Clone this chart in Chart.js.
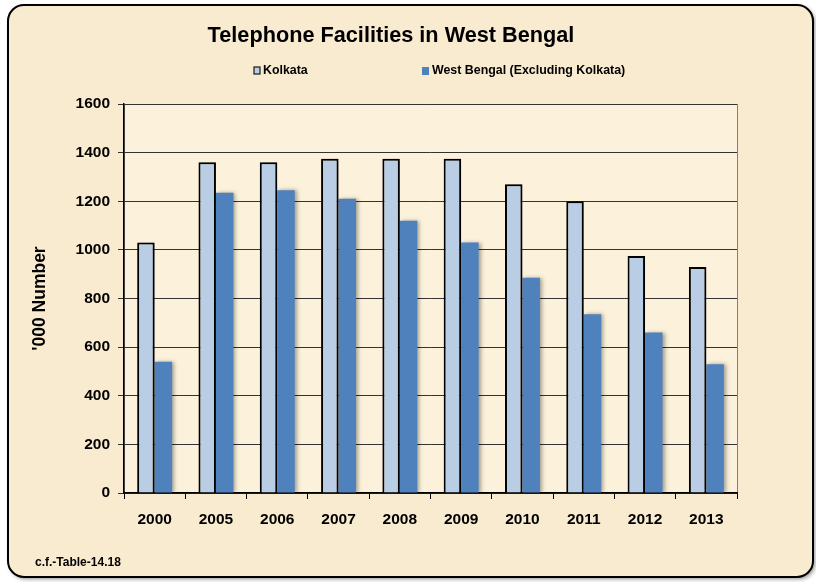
<!DOCTYPE html>
<html>
<head>
<meta charset="utf-8">
<script src="https://cdn.jsdelivr.net/npm/chart.js@4.4.1/dist/chart.umd.min.js"></script>
<style>
  html, body { margin: 0; padding: 0; background: #ffffff; }
  #wrap { width: 816px; height: 582px; position: relative; }
</style>
</head>
<body>
<div id="wrap"><canvas id="telChart" width="816" height="582"></canvas></div>
<script>
/* Telephone facilities ('000 number) */
const years = ['2000', '2005', '2006', '2007', '2008', '2009', '2010', '2011', '2012', '2013'];
const kolkata = [1030, 1360, 1360, 1375, 1375, 1375, 1270, 1200, 975, 930];
const westBengal = [540, 1235, 1245, 1210, 1120, 1030, 885, 735, 660, 530];
const yTicks = [0, 200, 400, 600, 800, 1000, 1200, 1400, 1600];

const chartTitle = 'Telephone Facilities in West Bengal';
const seriesNames = ['Kolkata', 'West Bengal (Excluding Kolkata)'];
const yTitle = "'000 Number";
const footNote = 'c.f.-Table-14.18';

const FONT = 'Arial, "Liberation Sans", sans-serif';

/* ── frame, plot background, title, legend, footnote ───────── */
const decorPlugin = {
    id: 'decor',
    beforeDraw(chart) {
        const ctx = chart.ctx;
        const a = chart.chartArea;
        ctx.save();
        // rounded parchment frame
        ctx.shadowColor = 'rgba(0,0,0,0.45)';
        ctx.shadowBlur = 4;
        ctx.shadowOffsetX = 2;
        ctx.shadowOffsetY = 2;
        ctx.beginPath();
        ctx.roundRect(8, 5, 805, 572, 16);
        ctx.fillStyle = '#f8ebcf';
        ctx.fill();
        ctx.shadowColor = 'transparent';
        ctx.lineWidth = 2;
        ctx.strokeStyle = '#000';
        ctx.stroke();
        // plot area
        ctx.fillStyle = '#fcf2dc';
        ctx.fillRect(a.left, a.top, a.right - a.left, a.bottom - a.top);
        ctx.strokeStyle = '#808080';
        ctx.lineWidth = 1;
        ctx.strokeRect(a.left + 0.5, a.top + 0.5, a.right - a.left, a.bottom - a.top);
        ctx.restore();
    },
    afterDraw(chart) {
        const ctx = chart.ctx;
        ctx.save();
        ctx.fillStyle = '#000';
        ctx.textBaseline = 'middle';
        ctx.textAlign = 'center';
        ctx.font = 'bold 21.7px ' + FONT;
        ctx.fillText(chartTitle, 391, 36);

        // legend
        ctx.textAlign = 'left';
        ctx.font = 'bold 12.4px ' + FONT;
        ctx.fillStyle = '#b9cde5';
        ctx.fillRect(254, 67, 6, 7);
        ctx.strokeStyle = '#1a1a1a';
        ctx.lineWidth = 1.2;
        ctx.strokeRect(254, 67, 6, 7);
        ctx.fillStyle = '#000';
        ctx.fillText(seriesNames[0], 263, 71);
        ctx.fillStyle = '#4f81bd';
        ctx.fillRect(422, 67, 7, 8);
        ctx.fillStyle = '#000';
        ctx.fillText(seriesNames[1], 432, 71);

        // footnote
        ctx.font = 'bold 12px ' + FONT;
        ctx.fillText(footNote, 35, 563);
        ctx.restore();
    }
};

/* soft shadow behind bars */
const shadowPlugin = {
    id: 'barShadow',
    beforeDatasetDraw(chart) {
        const ctx = chart.ctx;
        ctx.save();
        ctx.shadowColor = 'rgba(0,0,0,0.35)';
        ctx.shadowBlur = 4;
        ctx.shadowOffsetX = 2;
        ctx.shadowOffsetY = 0;
    },
    afterDatasetDraw(chart) {
        chart.ctx.restore();
    }
};

new Chart(document.getElementById('telChart'), {
    type: 'bar',
    data: {
        labels: years,
        datasets: [
            {
                label: seriesNames[0],
                data: kolkata,
                backgroundColor: '#b9cde5',
                borderColor: '#000',
                borderWidth: 2,
            },
            {
                label: seriesNames[1],
                data: westBengal,
                backgroundColor: '#4f81bd',
                borderWidth: 0,
            }
        ]
    },
    options: {
        responsive: false,
        animation: false,
        devicePixelRatio: 1,
        categoryPercentage: 0.57,
        barPercentage: 1,
        layout: { padding: { top: 104, right: 79, bottom: 0, left: 0 } },
        plugins: {
            legend: { display: false },
            title: { display: false },
            tooltip: { enabled: false }
        },
        scales: {
            x: {
                grid: {
                    display: true,
                    drawOnChartArea: false,
                    color: '#000',
                    tickLength: 6
                },
                border: { color: '#000', width: 1.5 },
                ticks: {
                    color: '#000',
                    padding: 11,
                    font: { family: FONT, size: 15.5, weight: 'bold' }
                },
                afterFit: s => { s.height = 89; }
            },
            y: {
                min: 0,
                max: 1600,
                afterBuildTicks: s => { s.ticks = yTicks.map(v => ({ value: v })); },
                grid: {
                    color: '#333333',
                    lineWidth: 1,
                    tickLength: 6
                },
                border: { color: '#000', width: 1.5 },
                ticks: {
                    color: '#000',
                    padding: 8,
                    callback: v => String(v),
                    font: { family: FONT, size: 15.5, weight: 'bold' }
                },
                title: {
                    display: true,
                    text: yTitle,
                    color: '#000',
                    padding: { top: 30, bottom: 0 },
                    font: { family: FONT, size: 17.5, weight: 'bold' }
                },
                afterFit: s => { s.width = 124; }
            }
        }
    },
    plugins: [decorPlugin, shadowPlugin]
});
</script>
</body>
</html>
